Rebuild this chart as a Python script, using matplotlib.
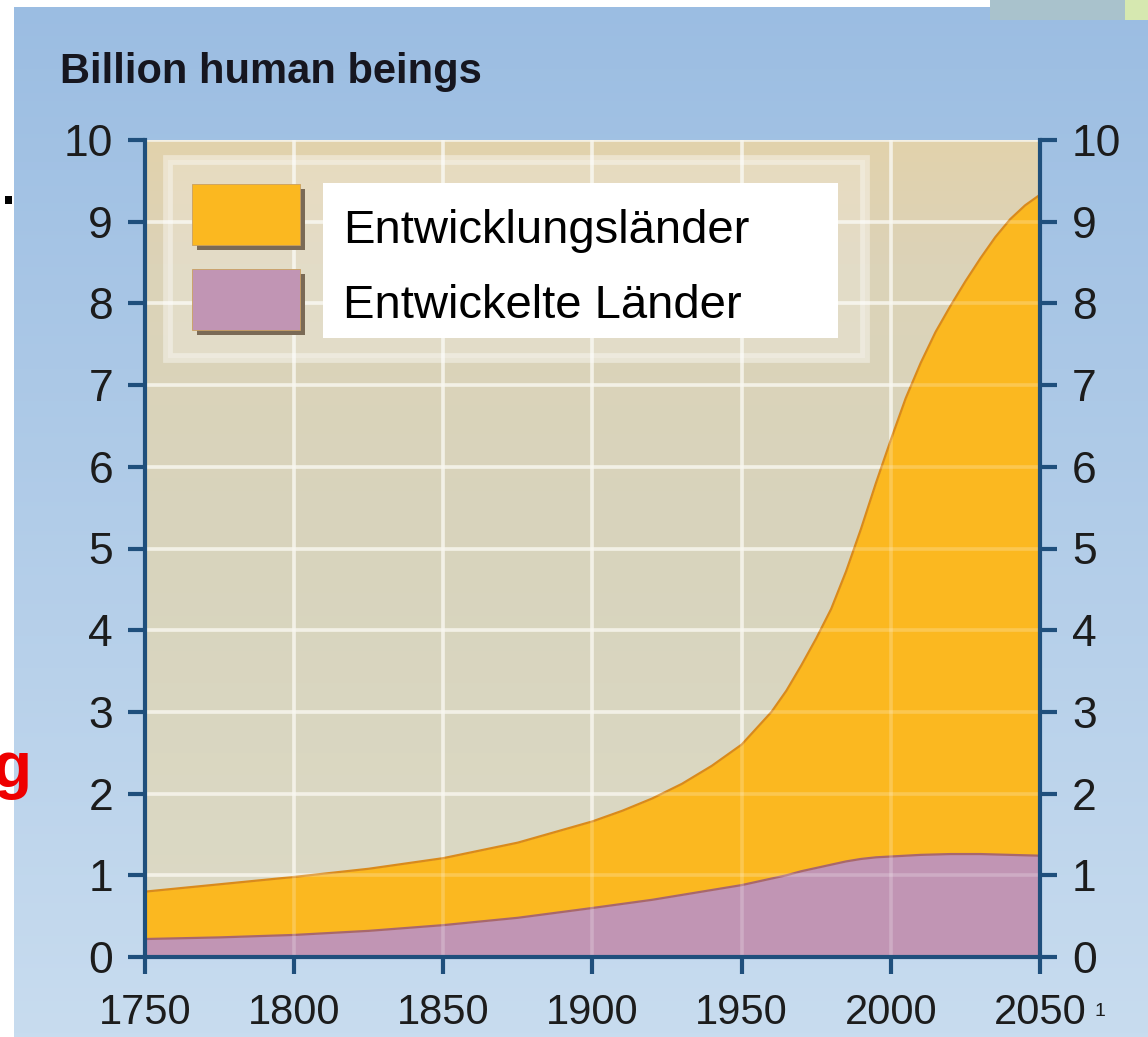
import numpy as np
import matplotlib.pyplot as plt
from matplotlib.colors import LinearSegmentedColormap
from matplotlib.patches import Rectangle

plt.rcParams['font.family'] = ['Liberation Sans', 'DejaVu Sans']

# world population in billions
years = [1750, 1775, 1800, 1825, 1850, 1875, 1900, 1910, 1920, 1930, 1940,
         1950, 1960, 1965, 1970, 1975, 1980, 1985, 1990, 1995, 2000, 2005,
         2010, 2015, 2020, 2025, 2030, 2035, 2040, 2045, 2050]
total = [0.80, 0.89, 0.98, 1.08, 1.21, 1.40, 1.66, 1.79, 1.94, 2.12, 2.34,
         2.60, 3.00, 3.26, 3.57, 3.90, 4.26, 4.72, 5.24, 5.80, 6.33, 6.84,
         7.27, 7.65, 7.97, 8.27, 8.55, 8.81, 9.03, 9.20, 9.33]
developed = [0.22, 0.24, 0.27, 0.32, 0.39, 0.48, 0.60, 0.65, 0.70, 0.76, 0.82,
             0.88, 0.96, 1.00, 1.05, 1.09, 1.13, 1.17, 1.20, 1.22, 1.23, 1.24,
             1.25, 1.255, 1.26, 1.26, 1.26, 1.255, 1.25, 1.245, 1.24]

x_ticks = [1750, 1800, 1850, 1900, 1950, 2000, 2050]
y_ticks = list(range(0, 11))
series_names = ['Entwicklungsländer', 'Entwickelte Länder']
title = 'Billion human beings'

orange = '#fbb820'
orange_edge = '#d98a1c'
purple = '#c195b4'
purple_edge = '#a8676c'
axis_blue = '#1f4f7c'
W, H = 1148, 1037

fig = plt.figure(figsize=(W / 100, H / 100), dpi=100)

# light blue backdrop
bg = fig.add_axes([0, 0, 1, 1], zorder=-5)
sky = LinearSegmentedColormap.from_list('sky', ['#c8dcef', '#9bbde2'])
bg.imshow(np.linspace(0, 1, 256).reshape(-1, 1), cmap=sky, aspect='auto',
          origin='lower', extent=[0, 1, 0, 1])
bg.set_xlim(0, 1)
bg.set_ylim(0, 1)
bg.axis('off')

ax = fig.add_axes([145 / W, 1 - 957 / H, 895 / W, 817 / H])

# beige plot area
paper = LinearSegmentedColormap.from_list(
    'paper', [(0, '#dcdac6'), (0.5, '#d8d4bd'), (0.85, '#dcd3b8'), (1, '#e2d2ac')])
ax.imshow(np.linspace(0, 1, 256).reshape(-1, 1), cmap=paper, aspect='auto',
          origin='lower', extent=[0, 1, 0, 1], transform=ax.transAxes, zorder=0)

ax.fill_between(years, developed, total, color=orange, lw=0, zorder=1)
ax.fill_between(years, 0, developed, color=purple, lw=0, zorder=1)
ax.plot(years, total, color=orange_edge, lw=1.6, zorder=2)
ax.plot(years, developed, color=purple_edge, lw=1.6, zorder=2)

ax.set_xlim(1750, 2050)
ax.set_ylim(0, 10)
ax.set_xticks(x_ticks)
ax.set_yticks(y_ticks)

# grid: bright under the areas, faint on top of them
ax.grid(True, color='#f4f2e6', lw=2.6, alpha=0.85)
ax.set_axisbelow(True)
for x in x_ticks[1:-1]:
    ax.axvline(x, color='white', lw=2.6, alpha=0.22, zorder=3)
for y in y_ticks[1:]:
    ax.axhline(y, color='white', lw=2.6, alpha=0.22, zorder=3)

ax.spines['top'].set_visible(False)
for side in ['left', 'right', 'bottom']:
    ax.spines[side].set_color(axis_blue)
    ax.spines[side].set_linewidth(3)
    ax.spines[side].set_zorder(6)

ax.tick_params(axis='both', direction='out', length=12, width=3,
               color=axis_blue, labelcolor='#1c1c1c')
ax.tick_params(axis='x', labelsize=30, pad=14)
ax.tick_params(axis='y', labelsize=32, pad=11, right=True, labelright=True)

# legend panel
ax.add_patch(Rectangle((0.0257, 0.733), 0.779, 0.2425, transform=ax.transAxes,
                       facecolor=(1, 1, 1, 0.22), edgecolor=(1, 1, 1, 0.4),
                       lw=7, zorder=4))
for (y0, col) in [(0.8715, orange), (0.7674, purple)]:
    ax.add_patch(Rectangle((0.0525 + 0.006, y0 - 0.006), 0.1207, 0.0745,
                           transform=ax.transAxes, facecolor='#7a6a56',
                           lw=0, zorder=4.5))
    ax.add_patch(Rectangle((0.0525, y0), 0.1207, 0.0745, transform=ax.transAxes,
                           facecolor=col, edgecolor='#c9a060', lw=0.6, zorder=5))
ax.add_patch(Rectangle((0.1989, 0.7577), 0.5754, 0.1897, transform=ax.transAxes,
                       facecolor='white', lw=0, zorder=5))
ax.text(0.2212, 0.874, series_names[0], transform=ax.transAxes, fontsize=34,
        va='baseline', ha='left', color='black', zorder=6)
ax.text(0.2212, 0.782, series_names[1], transform=ax.transAxes, fontsize=34,
        va='baseline', ha='left', color='black', zorder=6)

fig.text(60 / W, 1 - 83 / H, title, fontsize=30, fontweight='bold',
         color='#16161f', va='baseline', ha='left')
fig.text(1094 / W, 1 - 1016 / H, '1', fontsize=14, color='#1c1c1c',
         va='baseline', ha='left')

# page edges around the chart
fig.patches.append(Rectangle((0, 0), 14 / W, 1, transform=fig.transFigure,
                             facecolor='white', lw=0, zorder=10))
fig.patches.append(Rectangle((0, 1 - 7 / H), 990 / W, 7 / H, transform=fig.transFigure,
                             facecolor='white', lw=0, zorder=10))
fig.patches.append(Rectangle((990 / W, 1 - 20 / H), 135 / W, 20 / H,
                             transform=fig.transFigure, facecolor='#a9c2cc',
                             lw=0, zorder=10))
fig.patches.append(Rectangle((1125 / W, 1 - 20 / H), 23 / W, 20 / H,
                             transform=fig.transFigure, facecolor='#d6e8b0',
                             lw=0, zorder=10))
fig.patches.append(Rectangle((5 / W, 1 - 204 / H), 7 / W, 8 / H,
                             transform=fig.transFigure, facecolor='black',
                             lw=0, zorder=11))
fig.text(-8 / W, 1 - 787 / H, 'g', fontsize=46, fontweight='bold',
         color='#ee0000', va='baseline', ha='left', zorder=11)

fig.savefig('out.png', dpi=100)
